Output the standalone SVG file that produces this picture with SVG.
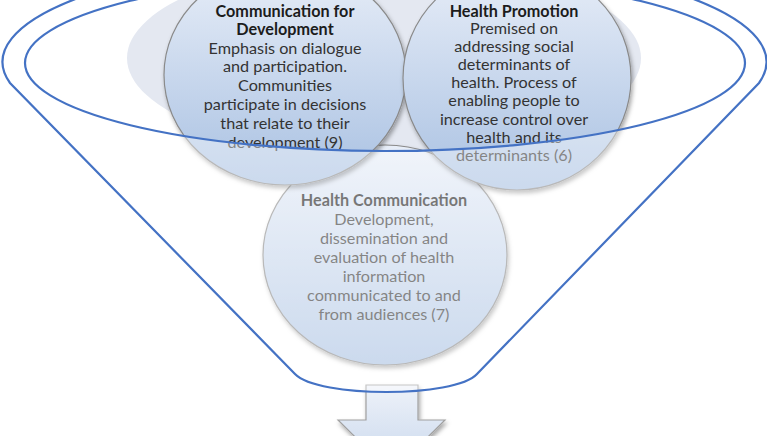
<svg xmlns="http://www.w3.org/2000/svg" width="767" height="436" viewBox="0 0 767 436">
<defs>
<linearGradient id="ballGrad" x1="0" y1="0" x2="0" y2="1">
<stop offset="0" stop-color="#e8eef8"/>
<stop offset="1" stop-color="#a9c1e2"/>
</linearGradient>
<linearGradient id="arrowGrad" x1="0" y1="0" x2="0" y2="1">
<stop offset="0" stop-color="#eef2f9"/>
<stop offset="1" stop-color="#c6d6ec"/>
</linearGradient>
<filter id="shadow" x="-20%" y="-20%" width="140%" height="140%">
<feDropShadow dx="1.5" dy="3" stdDeviation="2" flood-color="#000" flood-opacity="0.35"/>
</filter>
<style>
.ball{fill:url(#ballGrad);stroke:#8a8a8a;stroke-width:1.2;filter:url(#shadow);}
.t{font-family:Lato,"Open Sans","DejaVu Sans",sans-serif;font-size:16.2px;text-anchor:middle;fill:#333;}
.h{font-weight:bold;fill:#1c1c1c;}
.rim{fill:none;stroke:#4472c4;stroke-width:2.2;}
</style>
</defs>
<rect width="767" height="436" fill="#fff"/>
<g id="funnel-interior">
<ellipse cx="384" cy="58" rx="257" ry="97" fill="#e4e8f1"/>
</g>
<g id="node-health-communication">
<ellipse class="ball" cx="385" cy="255" rx="122" ry="110"/>
<text class="t h" x="384" y="206">Health Communication</text>
<text class="t" x="384" y="225">Development,</text>
<text class="t" x="384" y="244">dissemination  and</text>
<text class="t" x="384" y="263">evaluation of  health</text>
<text class="t" x="384" y="282">information</text>
<text class="t" x="384" y="301">communicated to and</text>
<text class="t" x="384" y="320">from audiences (7)</text>
</g>
<g id="node-communication-for-development">
<ellipse class="ball" cx="285" cy="75" rx="121" ry="110"/>
<text class="t h" x="285" y="16.5">Communication for</text>
<text class="t h" x="285" y="35">Development</text>
<text class="t" x="285" y="53.5">Emphasis on dialogue</text>
<text class="t" x="285" y="72">and participation.</text>
<text class="t" x="285" y="91">Communities</text>
<text class="t" x="285" y="110">participate in decisions</text>
<text class="t" x="285" y="129">that relate to their</text>
<text class="t" x="285" y="148">development (9)</text>
</g>
<g id="node-health-promotion">
<ellipse class="ball" cx="517" cy="78" rx="114" ry="112"/>
<text class="t h" x="514" y="16.5">Health Promotion</text>
<text class="t" x="514" y="34">Premised on</text>
<text class="t" x="514" y="52">addressing social</text>
<text class="t" x="514" y="70">determinants of</text>
<text class="t" x="514" y="88">health. Process of</text>
<text class="t" x="514" y="106">enabling people  to</text>
<text class="t" x="514" y="124.5">increase control over</text>
<text class="t" x="514" y="142.5">health and its</text>
<text class="t" x="514" y="161">determinants (6)</text>
</g>
<g id="connectors">
<path d="M366,385 L418,385 L418,420 L445,420 L391.5,473 L338,420 L366,420 Z" fill="url(#arrowGrad)" stroke="#a0a0a0" stroke-width="1.2" filter="url(#shadow)"/>
</g>
<g id="funnel">
<path d="M295,374 L10,83 A382 107 0 1 1 759,83 L477,374 C455,398 318,398 295,374 Z M25,63 A360 88 0 1 0 745,63 A360 88 0 1 0 25,63 Z" fill="#fff" fill-opacity="0.4" fill-rule="evenodd"/>
<path class="rim" d="M295,374 L10,83 A382 107 0 1 1 759,83 L477,374 C455,398 318,398 295,374 Z"/>
<ellipse class="rim" cx="385" cy="63" rx="360" ry="88"/>
</g>
</svg>
